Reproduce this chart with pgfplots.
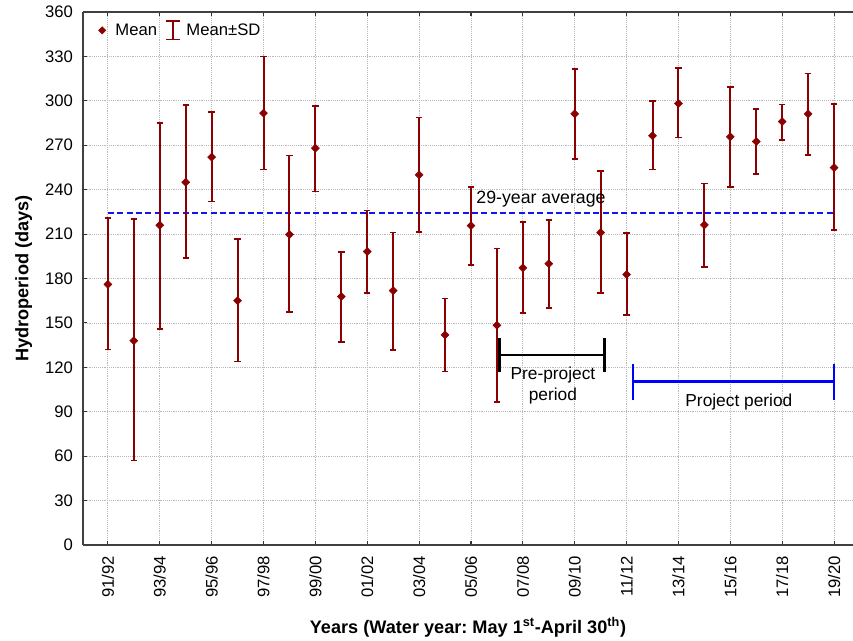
\documentclass[border=0pt]{standalone}
\usepackage{fontspec}
\setmainfont{Liberation Sans}
\usepackage{pgfplots}
\pgfplotsset{compat=1.18}
\usepackage{pgfplotstable}
\definecolor{darkred}{RGB}{139,0,0}
\definecolor{gridgray}{RGB}{185,185,185}
\definecolor{avgblue}{RGB}{20,20,240}
\frenchspacing

\pgfplotstableread{
x mean hi lo
0 176 221 132
1 138 220 57
2 216 285 146
3 245 297 194
4 262 292.5 232
5 165 206.5 124
6 291.7 330 253.6
7 209.7 263 157.4
8 268 296.4 238.7
9 167.8 198 137.2
10 198.2 226 170.3
11 171.8 211 131.5
12 250 288.7 211.5
13 141.9 166.4 117.1
14 215.7 242 189.2
15 148.4 200.2 96.8
16 187.2 218.2 156.5
17 190 219.6 159.9
18 291.2 321.6 260.8
19 211 252.5 170.3
20 182.7 210.6 155.4
21 276.4 299.8 253.6
22 298.2 322 275.2
23 216.2 244.1 187.6
24 275.7 309.2 241.9
25 272.5 294.6 250.5
26 286 297.5 273.6
27 291.2 318.5 263.3
28 254.9 297.8 212.8
}\datatable

\begin{document}
\begin{tikzpicture}
\begin{axis}[name=ax,
  width=577.5pt, height=399.75pt, scale only axis,
  xmin=-0.96, xmax=28.73, ymin=0, ymax=360,
  axis x line*=box, axis y line*=left,
  xtick={0,2,...,28},
  xticklabels={91/92,93/94,95/96,97/98,99/00,01/02,03/04,05/06,07/08,09/10,11/12,13/14,15/16,17/18,19/20},
  ytick={0,30,...,360},
  tick align=inside, major tick length=3pt,
  tick style={black!80, line width=0.8pt},
  grid=major, grid style={densely dotted, gridgray, line width=0.6pt},
  axis line style={black!75, line width=0.9pt},
  tick label style={font=\fontsize{12.5}{14}\selectfont},
  /pgf/number format/assume math mode=true,
  xticklabel style={rotate=90, anchor=east, xshift=-4.8pt},
  yticklabel style={xshift=-4pt},
  xlabel={Years (Water year: May 1\textsuperscript{st}-April 30\textsuperscript{th})},
  ylabel={Hydroperiod (days)},
  label style={font=\bfseries\fontsize{13.6}{16}\selectfont},
  xlabel style={at={(rel axis cs:0.5,0)}, anchor=center, yshift=-61.5pt},
  ylabel style={at={(rel axis cs:0,0.5)}, anchor=center, yshift=44.5pt},
  legend style={at={(rel axis cs:0,1)}, anchor=north west, draw=none, fill=none,
    legend columns=2, font=\fontsize{12.5}{14}\selectfont, xshift=5.5pt, yshift=-4pt,
    /tikz/every even column/.append style={column sep=4.25pt}},
]
\addlegendimage{darkred,
  legend image code/.code={\path[draw=none, fill=none] (0,-0.2cm) rectangle (0.48cm,0.2cm);
    \path[draw=darkred, fill=darkred] plot[only marks, mark=square*, mark size=1.9pt, mark options={rotate=45}] coordinates {(0.2cm,0cm)};}}
\addlegendentry{Mean}
\addlegendimage{darkred,
  legend image code/.code={\path[draw=none, fill=none] (0,-0.2cm) rectangle (0.48cm,0.2cm);
    \draw[darkred, line width=1.5pt] (0.2cm,-0.24cm) -- (0.2cm,0.24cm);
    \draw[darkred, line width=1.2pt] (0.02cm,0.24cm) -- (0.38cm,0.24cm) (0.02cm,-0.24cm) -- (0.38cm,-0.24cm);}}
\addlegendentry{Mean±SD}

\addplot[avgblue, line width=1.3pt, dash pattern=on 4.5pt off 2.5pt, forget plot] coordinates {(0,224.1) (28,224.1)};

\addplot[darkred, only marks, mark=square*, mark options={rotate=45, fill=darkred, draw=darkred}, mark size=2.1pt, forget plot,
  error bars/.cd, y dir=both, y explicit,
  error bar style={line width=1.5pt, darkred},
  error mark options={rotate=90, darkred, mark size=2.4pt, line width=1.3pt}]
  table[x=x, y=mean, y error plus expr=\thisrow{hi}-\thisrow{mean}, y error minus expr=\thisrow{mean}-\thisrow{lo}] {\datatable};

\node[anchor=west, inner sep=0, font=\fontsize{13.3}{15}\selectfont] at (axis cs:14.2,233.5) {29-year average};

\draw[black, line width=1.6pt] (axis cs:15.1,128.2) -- (axis cs:19.15,128.2);
\draw[black, line width=2.2pt] (axis cs:15.1,116.7) -- (axis cs:15.1,140);
\draw[black, line width=2.2pt] (axis cs:19.15,116.7) -- (axis cs:19.15,140);
\node[align=center, inner sep=0, font=\fontsize{13}{15.75}\selectfont] at (axis cs:17.16,107.4) {Pre-project\\period};

\draw[blue, line width=2pt] (axis cs:20.25,110.3) -- (axis cs:28,110.3);
\draw[blue, line width=2pt] (axis cs:20.25,98) -- (axis cs:20.25,122.3);
\draw[blue, line width=2pt] (axis cs:28,98) -- (axis cs:28,122.3);
\node[inner sep=0, font=\fontsize{13}{15.75}\selectfont] at (axis cs:24.33,96.8) {Project period};
\end{axis}
\pgfresetboundingbox
\path[use as bounding box] ([shift={(-62.25pt,-72pt)}]ax.south west) rectangle ([shift={(577.5pt,408.75pt)}]ax.south west);
\end{tikzpicture}
\end{document}
